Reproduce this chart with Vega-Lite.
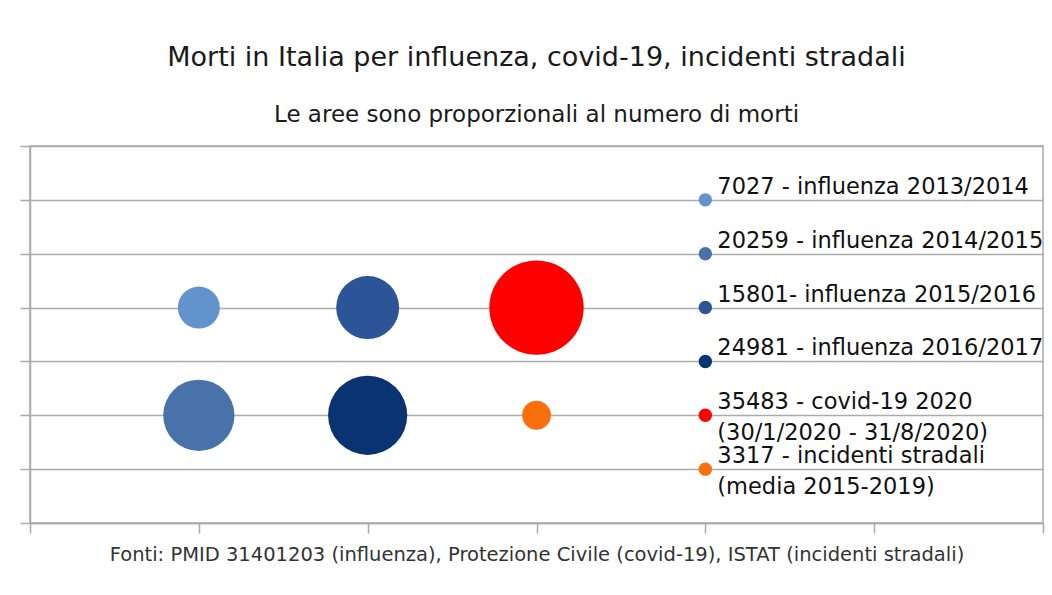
{
  "$schema": "https://vega.github.io/schema/vega-lite/v6.json",
  "width": 1013,
  "height": 377,
  "autosize": {"type": "none"},
  "padding": {"left": 30, "top": 146, "right": 9, "bottom": 72},
  "background": "white",
  "title": {
    "text": "Morti in Italia per influenza, covid-19, incidenti stradali",
    "subtitle": "Le aree sono proporzionali al numero di morti",
    "anchor": "middle",
    "frame": "group",
    "offset": 17,
    "subtitlePadding": 32
  },
  "config": {
    "font": "DejaVu Sans",
    "view": {"stroke": "#ababab", "strokeWidth": 1.5},
    "title": {"font": "DejaVu Sans", "fontSize": 27, "fontWeight": "normal", "color": "#1a1a1a", "subtitleFont": "DejaVu Sans", "subtitleFontSize": 23, "subtitleColor": "#1a1a1a"},
    "axis": {"domainColor": "#ababab", "domainWidth": 1.5, "tickColor": "#ababab", "tickWidth": 1.5, "gridColor": "#ababab", "gridWidth": 1.5, "labels": false, "tickSize": 10}
  },
  "data": {
    "values": [
      {"id": "2013/2014", "serie": "7027 - influenza 2013/2014", "morti": 7027, "colonna": 1, "riga": 4, "voce": 6},
      {"id": "2014/2015", "serie": "20259 - influenza 2014/2015", "morti": 20259, "colonna": 1, "riga": 2, "voce": 5},
      {"id": "2015/2016", "serie": "15801- influenza 2015/2016", "morti": 15801, "colonna": 2, "riga": 4, "voce": 4},
      {"id": "2016/2017", "serie": "24981 - influenza 2016/2017", "morti": 24981, "colonna": 2, "riga": 2, "voce": 3},
      {"id": "covid", "serie": "35483 - covid-19 2020\n(30/1/2020 - 31/8/2020)", "morti": 35483, "colonna": 3, "riga": 4, "voce": 2},
      {"id": "incidenti", "serie": "3317 - incidenti stradali\n(media 2015-2019)", "morti": 3317, "colonna": 3, "riga": 2, "voce": 1}
    ]
  },
  "layer": [
    {
      "mark": {"type": "circle", "opacity": 1, "strokeWidth": 0},
      "encoding": {
        "x": {"field": "colonna", "type": "quantitative", "scale": {"domain": [0, 6], "nice": false, "zero": false},
              "axis": {"values": [0, 1, 2, 3, 4, 5, 6], "grid": false, "title": "Fonti: PMID 31401203 (influenza), Protezione Civile (covid-19), ISTAT (incidenti stradali)",
                       "titleFont": "DejaVu Sans", "titleFontSize": 19.5, "titleFontWeight": "normal", "titleColor": "#333333", "titlePadding": 12}},
        "y": {"field": "riga", "type": "quantitative", "scale": {"domain": [0, 7], "nice": false, "zero": false},
              "axis": {"values": [0, 1, 2, 3, 4, 5, 6, 7], "grid": true, "title": null}},
        "size": {"field": "morti", "type": "quantitative", "scale": {"type": "linear", "domain": [0, 40000], "range": [0, 10040]}, "legend": null},
        "color": {"field": "id", "type": "nominal",
                  "scale": {"domain": ["2013/2014", "2014/2015", "2015/2016", "2016/2017", "covid", "incidenti"],
                            "range": ["#6393cc", "#4a72aa", "#2b5597", "#0a3372", "#ff0000", "#f8700e"]}, "legend": null}
      }
    },
    {
      "mark": {"type": "circle", "opacity": 1, "size": 180, "strokeWidth": 0},
      "encoding": {
        "x": {"datum": 4, "type": "quantitative"},
        "y": {"field": "voce", "type": "quantitative"},
        "color": {"field": "id", "type": "nominal", "legend": null}
      }
    },
    {
      "mark": {"type": "text", "align": "left", "baseline": "alphabetic", "dx": 12, "dy": -6, "fontSize": 22.5, "font": "DejaVu Sans", "color": "#111111", "lineBreak": "\n", "lineHeight": 31},
      "encoding": {
        "x": {"datum": 4, "type": "quantitative"},
        "y": {"field": "voce", "type": "quantitative"},
        "text": {"field": "serie"}
      }
    }
  ]
}
